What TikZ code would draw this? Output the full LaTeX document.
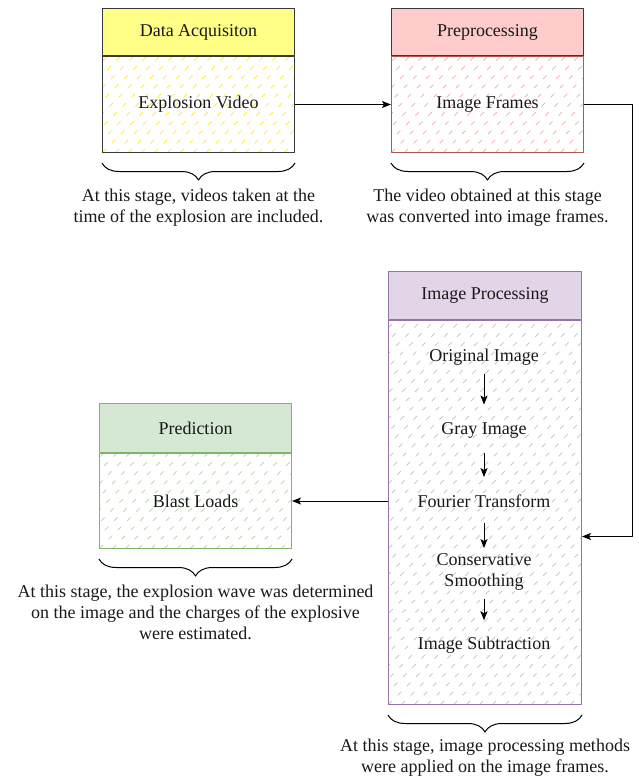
\documentclass[tikz,border=0pt]{standalone}
\usepackage{fontspec}
\setmainfont{Liberation Serif}
\usetikzlibrary{arrows.meta,decorations.pathreplacing,calc,positioning}
\definecolor{darkline}{HTML}{36393D}
\definecolor{ylwf}{HTML}{FFFF88}
\definecolor{ylwh}{HTML}{FFEB45}
\definecolor{pinkf}{HTML}{FFCCCC}
\definecolor{pinkh}{HTML}{F5B5B5}
\definecolor{redline}{HTML}{B85450}
\definecolor{purf}{HTML}{E1D5E7}
\definecolor{purline}{HTML}{9673A6}
\definecolor{grayh}{HTML}{C9C9C9}
\definecolor{grnf}{HTML}{D5E8D4}
\definecolor{grnh}{HTML}{BADBB0}
\definecolor{grnline}{HTML}{82B366}
\begin{document}
\begin{tikzpicture}[x=1pt,y=-1pt,line join=round,
	every node/.style={font=\fontsize{18}{21}\selectfont,text=black!90},
	head/.style={draw=#1,line width=1pt,minimum width=192pt,minimum height=47pt,inner sep=0pt},
	body/.style={draw=#1,line width=1pt,minimum width=192pt,minimum height=96pt,inner sep=0pt},
	hatch/.style={path picture={\foreach \k in {-416,-403,...,200}
			\draw[#1,line width=0.75pt,dash pattern=on 5pt off 8pt] ([xshift=\k pt]path picture bounding box.south west)--++(420pt,420pt);}},
	note/.style={align=center,anchor=north,inner sep=2pt},
	arr/.style={-{Stealth[length=9pt,width=7pt,inset=2pt]},line width=1pt},
	brc/.style={decorate,decoration={brace,mirror,amplitude=17pt},line width=1pt}]
	%==frame of the page
	\useasboundingbox (0,0) rectangle (638,780);
	%==four stages
	\node[head=darkline,fill=ylwf,anchor=north west] (acqh) at (102,8) {Data Acquisiton};
	\node[body=darkline,hatch=ylwh,below=0pt of acqh] (acq) {Explosion Video};
	\node[head=darkline,fill=pinkf,anchor=north west] (preph) at (391,8) {Preprocessing};
	\node[body=redline,hatch=pinkh,below=0pt of preph] (prep) {Image Frames};
	\node[head=purline,fill=purf,anchor=north west,minimum width=193pt,minimum height=48pt] (imgph) at (388,271) {Image Processing};
	\node[body=purline,hatch=grayh,below=0pt of imgph,minimum width=193pt,minimum height=384pt] (imgp) {};
	\node[head=grnline,fill=grnf,anchor=north west,minimum height=49pt] (predh) at (99,403) {Prediction};
	\node[body=grnline,hatch=grnh,below=0pt of predh,minimum height=95pt] (pred) {Blast Loads};
	%==steps inside image processing
	\node (orig) at (484,357) {Original Image};
	\node (gray) at (484,430) {Gray Image};
	\node (fourier) at (484,501) {Fourier Transform};
	\node[align=center] (smooth) at (484,572) {Conservative\\Smoothing};
	\node (subtr) at (484,645) {Image Subtraction};
	\foreach \a/\b/\s/\e in {orig/gray/5/14,gray/fourier/12/14,fourier/smooth/12/2,smooth/subtr/5/13}
	\draw[arr,shorten <=\s pt,shorten >=\e pt] (\a)--(\b);
	%==connectors
	\draw[arr] (acq)--(prep);
	\draw[arr] (prep.east)--++(48,0)|-($(imgp.east)+(0,24)$);
	\draw[arr] (imgp.west |- pred)--(pred);
	%==braces and notes
	\foreach \n in {acq,prep,imgp,pred}
	\draw[brc] ([yshift=-10pt]\n.south west)--([yshift=-10pt]\n.south east);
	\node[note] (acqnote) at ([yshift=-34pt]acq.south) {At this stage, videos taken at the\\time of the explosion are included.};
	\node[note] (prepnote) at ([yshift=-34pt]prep.south) {The video obtained at this stage\\was converted into image frames.};
	\node[note] (imgpnote) at ([yshift=-32pt]imgp.south) {At this stage, image processing methods\\were applied on the image frames.};
	\node[note] (prednote) at ([yshift=-34pt]pred.south) {At this stage, the explosion wave was determined\\on the image and the charges of the explosive\\were estimated.};
\end{tikzpicture}
\end{document}
